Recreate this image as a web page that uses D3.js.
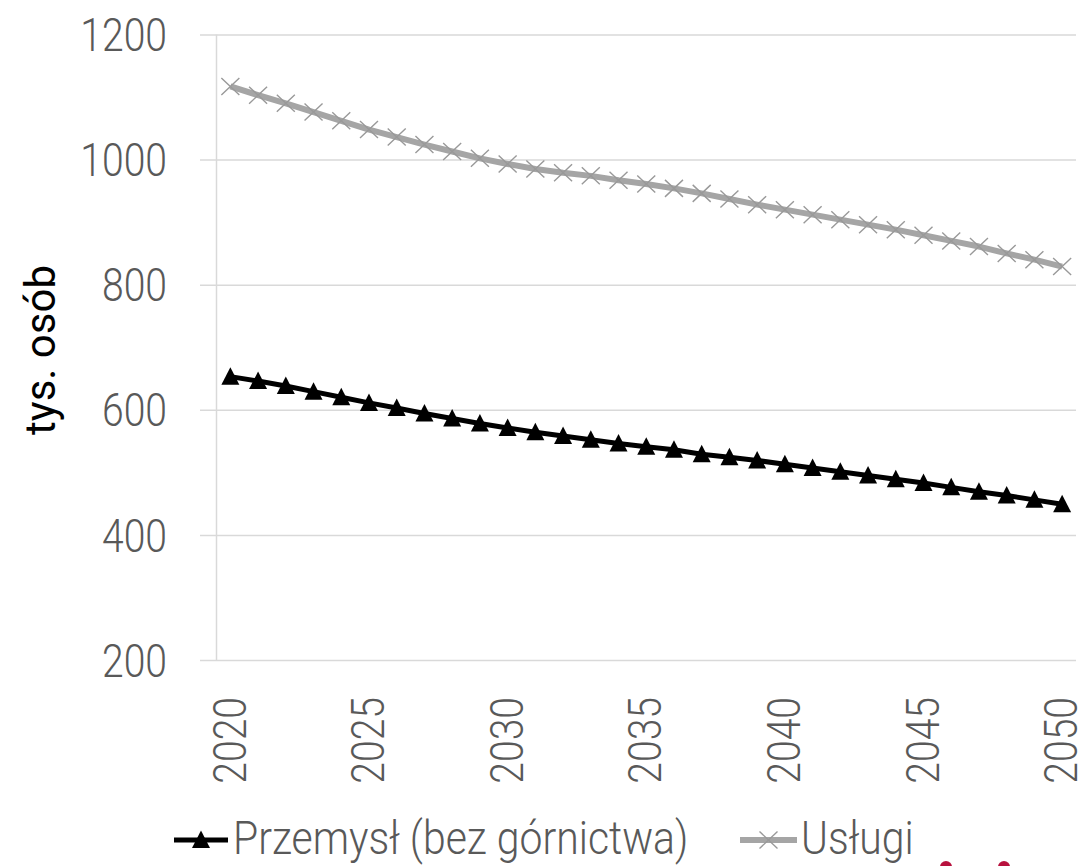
<!DOCTYPE html>
<html>
<head>
<meta charset="utf-8">
<script src="https://cdn.jsdelivr.net/npm/d3@7"></script>
<style>
body { margin: 0; background: #fff; }
svg { display: block; }
.cond { font-family: Roboto, "Open Sans", sans-serif; font-weight: 300; }
</style>
</head>
<body>
<svg id="chart"></svg>
<script>
// dane z wykresu
var years = [2020, 2021, 2022, 2023, 2024, 2025, 2026, 2027, 2028, 2029, 2030,
  2031, 2032, 2033, 2034, 2035, 2036, 2037, 2038, 2039, 2040,
  2041, 2042, 2043, 2044, 2045, 2046, 2047, 2048, 2049, 2050]
var przemysl = [653, 646, 638, 629, 620, 611, 603, 594, 586, 578, 571,
  564, 558, 552, 546, 541, 536, 529, 524, 519, 513,
  507, 501, 495, 489, 483, 476, 469, 463, 456, 449]
var uslugi = [1117, 1103, 1090, 1076, 1062, 1048, 1036, 1024, 1013, 1002, 993,
  985, 979, 974, 967, 961, 954, 946, 937, 928, 920,
  912, 904, 896, 888, 879, 870, 861, 850, 840, 829]
var xTicks = [2020, 2025, 2030, 2035, 2040, 2045, 2050]
var yTicks = [200, 400, 600, 800, 1000, 1200]
var seriesNames = ['Przemysł (bez górnictwa)', 'Usługi']

var svg = d3.select('#chart')
  .attr('width', 1086)
  .attr('height', 866)

// skale
var x = d3.scalePoint()
  .domain(years)
  .range([216.5, 1076])
  .padding(0.5)
var y = d3.scaleLinear()
  .domain([200, 1200])
  .range([660, 34.5])

// linie siatki
var grid = svg.append('g')
  .attr('transform', 'translate(200,0)')
  .call(d3.axisRight(y).tickValues(yTicks).tickSize(876).tickFormat(''))
grid.select('.domain').remove()
grid.selectAll('line').attr('stroke', '#d9d9d9').attr('stroke-width', 1.5)

// pionowa oś
svg.append('line')
  .attr('x1', 216.5).attr('x2', 216.5)
  .attr('y1', y(1200)).attr('y2', y(200))
  .attr('stroke', '#d9d9d9').attr('stroke-width', 1.5)

// etykiety osi Y
var yAxis = svg.append('g')
  .attr('transform', 'translate(167,0)')
  .call(d3.axisLeft(y).tickValues(yTicks).tickSize(0).tickPadding(0).tickFormat(d3.format('d')))
yAxis.select('.domain').remove()
yAxis.selectAll('text')
  .attr('class', 'cond')
  .attr('font-size', 46)
  .attr('fill', '#595959')
  .attr('dy', '0.35em')

// etykiety osi X
var xAxis = svg.append('g')
  .attr('transform', 'translate(0,660)')
  .call(d3.axisBottom(x).tickValues(xTicks).tickSize(0))
xAxis.select('.domain').remove()
xAxis.selectAll('text')
  .attr('class', 'cond')
  .attr('font-size', 46)
  .attr('fill', '#595959')
  .attr('transform', 'rotate(-90)')
  .attr('text-anchor', 'end')
  .attr('x', -37)
  .attr('y', 0)
  .attr('dy', '0.32em')

// tytuł osi Y
svg.append('text')
  .attr('transform', 'translate(40,350) rotate(-90)')
  .attr('text-anchor', 'middle')
  .attr('dy', '0.35em')
  .attr('font-family', 'Roboto, sans-serif')
  .attr('font-size', 42)
  .attr('fill', '#000')
  .text('tys. osób')

var triangle = 'M0,-9.5L9,8L-9,8Z'
var cross = 'M-9,-8.5L9,8.5M-9,8.5L9,-8.5'

var line = d3.line()
  .x(function(d, i) { return x(years[i]) })
  .y(function(d) { return y(d) })

// Usługi
svg.append('path')
  .datum(uslugi)
  .attr('d', line)
  .attr('fill', 'none')
  .attr('stroke', '#a5a5a5')
  .attr('stroke-width', 6)
  .attr('stroke-linejoin', 'round')
svg.append('g').selectAll('path')
  .data(uslugi)
  .enter()
  .append('path')
  .attr('d', cross)
  .attr('transform', function(d, i) { return 'translate(' + x(years[i]) + ',' + y(d) + ')' })
  .attr('stroke', '#999')
  .attr('stroke-width', 1.4)
  .attr('fill', 'none')

// Przemysł
svg.append('path')
  .datum(przemysl)
  .attr('d', line)
  .attr('fill', 'none')
  .attr('stroke', '#000')
  .attr('stroke-width', 5)
  .attr('stroke-linejoin', 'round')
svg.append('g').selectAll('path')
  .data(przemysl)
  .enter()
  .append('path')
  .attr('d', triangle)
  .attr('transform', function(d, i) { return 'translate(' + x(years[i]) + ',' + y(d) + ')' })
  .attr('fill', '#000')

// legenda
svg.append('line')
  .attr('x1', 174).attr('x2', 228).attr('y1', 840).attr('y2', 840)
  .attr('stroke', '#000').attr('stroke-width', 5)
svg.append('path')
  .attr('d', triangle)
  .attr('transform', 'translate(201,840)')
  .attr('fill', '#000')
svg.append('text')
  .attr('class', 'cond leg')
  .attr('x', 233)
  .attr('y', 854)
  .attr('font-size', 46)
  .attr('fill', '#595959')
  .text(seriesNames[0])

svg.append('line')
  .attr('x1', 740).attr('x2', 797).attr('y1', 840).attr('y2', 840)
  .attr('stroke', '#a5a5a5').attr('stroke-width', 6)
svg.append('path')
  .attr('d', cross)
  .attr('transform', 'translate(768.5,840)')
  .attr('stroke', '#999').attr('stroke-width', 1.4).attr('fill', 'none')
svg.append('text')
  .attr('class', 'cond leg')
  .attr('x', 801)
  .attr('y', 854)
  .attr('font-size', 46)
  .attr('fill', '#595959')
  .text(seriesNames[1])

// fragment logo na dole
svg.append('circle').attr('cx', 946).attr('cy', 867).attr('r', 6).attr('fill', '#b8123e')
svg.append('circle').attr('cx', 1004).attr('cy', 867).attr('r', 6).attr('fill', '#b8123e')

// zwężenie czcionki (krój "condensed")
svg.selectAll('text.cond').each(function() {
  var len = this.getComputedTextLength()
  var k = d3.select(this).classed('leg') ? 0.89 : 0.85
  d3.select(this)
    .attr('textLength', len * k)
    .attr('lengthAdjust', 'spacingAndGlyphs')
})
</script>
</body>
</html>
